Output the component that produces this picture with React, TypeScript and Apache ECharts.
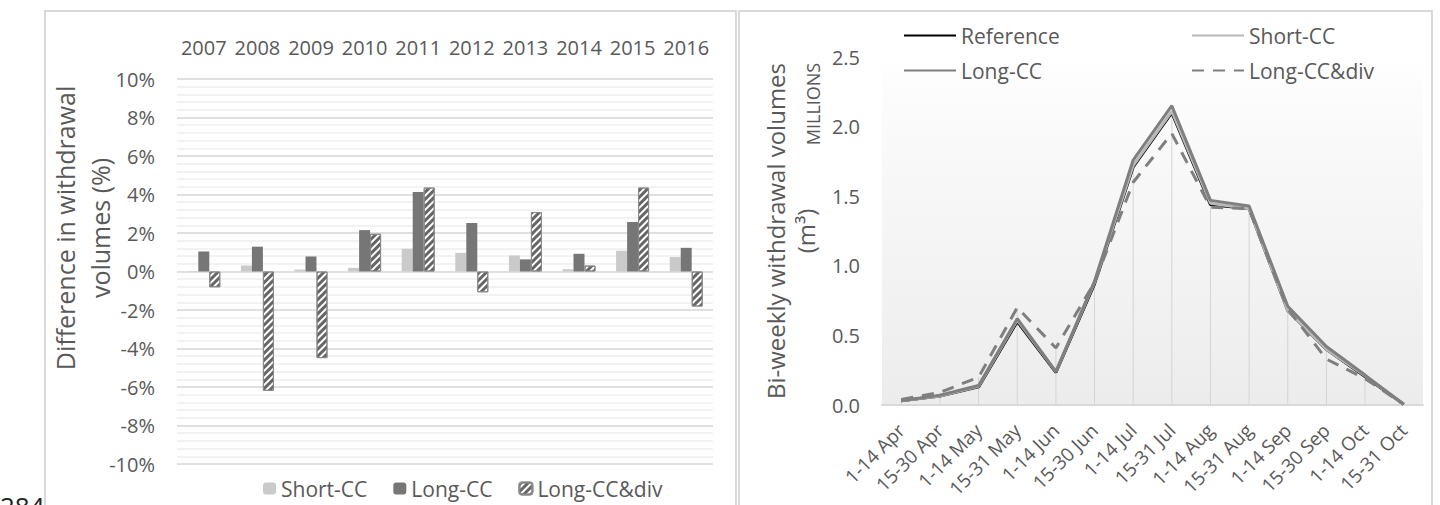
import React, { useEffect, useRef } from "react";
import * as echarts from "echarts";

const FONT = "'Open Sans', 'Noto Sans', sans-serif";
const TXT = "#595959";

// Left chart data
const years = ["2007", "2008", "2009", "2010", "2011", "2012", "2013", "2014", "2015", "2016"];
const shortCCPct = [0.02, 0.31, 0.1, 0.19, 1.18, 0.97, 0.83, 0.12, 1.08, 0.75];
const longCCPct = [1.04, 1.29, 0.78, 2.15, 4.13, 2.52, 0.63, 0.92, 2.57, 1.23];
const longCCDivPct = [-0.82, -6.2, -4.5, 1.96, 4.36, -1.08, 3.09, 0.31, 4.36, -1.82];

// Right chart data (millions m3)
const periods = [
  "1-14 Apr", "15-30 Apr", "1-14 May", "15-31 May", "1-14 Jun", "15-30 Jun", "1-14 Jul",
  "15-31 Jul", "1-14 Aug", "15-31 Aug", "1-14 Sep", "15-30 Sep", "1-14 Oct", "15-31 Oct",
];
const referenceVol = [0.03, 0.065, 0.13, 0.6, 0.235, 0.87, 1.71, 2.1, 1.44, 1.41, 0.68, 0.4, 0.205, 0.005];
const shortCCVol = [0.03, 0.065, 0.135, 0.61, 0.24, 0.88, 1.72, 2.11, 1.45, 1.41, 0.68, 0.4, 0.21, 0.005];
const longCCVol = [0.03, 0.07, 0.14, 0.62, 0.24, 0.89, 1.76, 2.15, 1.47, 1.43, 0.71, 0.42, 0.215, 0.005];
const longCCDivVol = [0.04, 0.09, 0.2, 0.7, 0.41, 0.88, 1.6, 1.95, 1.42, 1.41, 0.69, 0.33, 0.19, 0.005];

const hatch = {
  symbol: "rect",
  symbolSize: 1,
  dashArrayX: [1, 0],
  dashArrayY: [2.4, 1.6],
  rotation: -Math.PI / 4,
  color: "#666666",
};

function LeftChart() {
  const ref = useRef<HTMLDivElement>(null);
  useEffect(() => {
    const chart = echarts.init(ref.current!, null, { renderer: "svg" });
    chart.setOption({
      animation: false,
      textStyle: { fontFamily: FONT },
      graphic: [
        {
          type: "rect",
          shape: { x: 45, y: 11, width: 691, height: 520 },
          style: { fill: "none", stroke: "#d9d9d9", lineWidth: 2 },
          silent: true,
        },
        {
          type: "text",
          x: 0,
          y: 493,
          style: { text: "284", fontSize: 26, fill: "#222", fontFamily: FONT },
        },
        {
          type: "text",
          x: 82,
          y: 228,
          rotation: Math.PI / 2,
          style: {
            text: "Difference in withdrawal\nvolumes (%)",
            fontSize: 25,
            lineHeight: 35,
            fill: TXT,
            fontFamily: FONT,
            align: "center",
            verticalAlign: "middle",
          },
        },
      ],
      grid: { left: 177, right: 24, top: 79, bottom: 41 },
      legend: {
        left: 258,
        top: 473,
        itemWidth: 13,
        itemHeight: 12,
        itemGap: 26,
        textStyle: { fontSize: 21, color: TXT, fontFamily: FONT },
        data: ["Short-CC", "Long-CC", "Long-CC&div"],
      },
      xAxis: {
        type: "category",
        data: years,
        position: "top",
        axisLine: { show: false },
        axisTick: { show: false },
        axisLabel: { fontSize: 20, color: TXT, margin: 22, fontFamily: FONT, interval: 0 },
      },
      yAxis: {
        type: "value",
        min: -10,
        max: 10,
        interval: 2,
        axisLabel: { formatter: "{value}%", fontSize: 20, color: TXT, margin: 22, fontFamily: FONT },
        splitLine: { lineStyle: { color: "#d6d6d6", width: 1.5 } },
        minorTick: { show: false, splitNumber: 5 },
        minorSplitLine: { show: true, lineStyle: { color: "#eeeeee", width: 1.5 } },
      },
      series: [
        {
          name: "Short-CC",
          type: "bar",
          data: shortCCPct,
          barWidth: 11,
          barGap: "0%",
          itemStyle: { color: "#cacaca" },
        },
        {
          name: "Long-CC",
          type: "bar",
          data: longCCPct,
          barWidth: 11,
          barGap: "0%",
          itemStyle: { color: "#767676" },
        },
        {
          name: "Long-CC&div",
          type: "bar",
          data: longCCDivPct,
          barWidth: 11,
          barGap: "0%",
          itemStyle: { color: "#ffffff", borderColor: "#8a8a8a", borderWidth: 1, decal: hatch },
        },
      ],
    });
    return () => chart.dispose();
  }, []);
  return <div ref={ref} style={{ position: "absolute", left: 0, top: 0, width: 737, height: 505 }} />;
}

function RightChart() {
  const ref = useRef<HTMLDivElement>(null);
  useEffect(() => {
    const chart = echarts.init(ref.current!, null, { renderer: "svg" });
    const dropTops = periods.map((_, i) =>
      Math.max(referenceVol[i], shortCCVol[i], longCCVol[i], longCCDivVol[i])
    );
    const legendText = { fontSize: 21, color: TXT, fontFamily: FONT };
    chart.setOption({
      animation: false,
      textStyle: { fontFamily: FONT },
      graphic: [
        {
          type: "rect",
          shape: { x: 2, y: 11, width: 693, height: 520 },
          style: { fill: "none", stroke: "#d9d9d9", lineWidth: 2 },
          silent: true,
        },
        {
          type: "text",
          x: 76,
          y: 104,
          rotation: Math.PI / 2,
          style: {
            text: "MILLIONS",
            fontSize: 18,
            fill: TXT,
            fontFamily: FONT,
            align: "center",
            verticalAlign: "middle",
          },
        },
      ],
      grid: {
        left: 145,
        right: 17,
        top: 57,
        bottom: 100,
        show: true,
        borderWidth: 0,
        backgroundColor: new echarts.graphic.LinearGradient(0, 0, 0, 1, [
          { offset: 0, color: "#ffffff" },
          { offset: 0.1, color: "#fcfcfc" },
          { offset: 1, color: "#ececec" },
        ]),
      },
      legend: [
        {
          left: 161,
          top: 20,
          orient: "vertical",
          itemWidth: 52,
          itemHeight: 14,
          itemGap: 14,
          itemStyle: { opacity: 0 },
          textStyle: legendText,
          data: ["Reference", "Long-CC"],
        },
        {
          left: 449,
          top: 20,
          orient: "vertical",
          itemWidth: 52,
          itemHeight: 14,
          itemGap: 14,
          itemStyle: { opacity: 0 },
          textStyle: legendText,
          data: ["Short-CC", "Long-CC&div"],
        },
      ],
      xAxis: {
        type: "category",
        data: periods,
        boundaryGap: true,
        axisLine: { lineStyle: { color: "#d9d9d9", width: 2 } },
        axisTick: { show: false },
        axisLabel: { rotate: 45, fontSize: 19, color: TXT, margin: 22, fontFamily: FONT, interval: 0 },
      },
      yAxis: {
        type: "value",
        min: 0,
        max: 2.5,
        interval: 0.5,
        axisLabel: {
          formatter: (v: number) => v.toFixed(1),
          fontSize: 20,
          color: TXT,
          margin: 22,
          fontFamily: FONT,
        },
        splitLine: { show: false },
        axisLine: { show: false },
        name: "Bi-weekly withdrawal volumes\n(m³)",
        nameLocation: "middle",
        nameGap: 62,
        nameRotate: 90,
        nameTextStyle: { fontSize: 24, color: TXT, lineHeight: 30, fontFamily: FONT },
      },
      series: [
        {
          name: "drop",
          type: "bar",
          data: dropTops,
          barWidth: 1,
          silent: true,
          itemStyle: { color: "#d4d4d4" },
          z: 1,
        },
        {
          name: "Reference",
          type: "line",
          data: referenceVol,
          symbol: "none",
          lineStyle: { color: "#000000", width: 3 },
          itemStyle: { color: "#000000" },
          z: 2,
        },
        {
          name: "Short-CC",
          type: "line",
          data: shortCCVol,
          symbol: "none",
          lineStyle: { color: "#b8b8b8", width: 3 },
          itemStyle: { color: "#b8b8b8" },
          z: 3,
        },
        {
          name: "Long-CC",
          type: "line",
          data: longCCVol,
          symbol: "none",
          lineStyle: { color: "#7f7f7f", width: 3 },
          itemStyle: { color: "#7f7f7f" },
          z: 4,
        },
        {
          name: "Long-CC&div",
          type: "line",
          data: longCCDivVol,
          symbol: "none",
          lineStyle: { color: "#7f7f7f", width: 3, type: [12, 9] },
          itemStyle: { color: "#7f7f7f" },
          z: 5,
        },
      ],
    });
    return () => chart.dispose();
  }, []);
  return <div ref={ref} style={{ position: "absolute", left: 737, top: 0, width: 703, height: 505 }} />;
}

export default function App() {
  useEffect(() => {
    document.body.style.margin = "0";
  }, []);
  return (
    <div style={{ position: "relative", width: 1440, height: 505, background: "#fff", overflow: "hidden" }}>
      <LeftChart />
      <RightChart />
    </div>
  );
}
